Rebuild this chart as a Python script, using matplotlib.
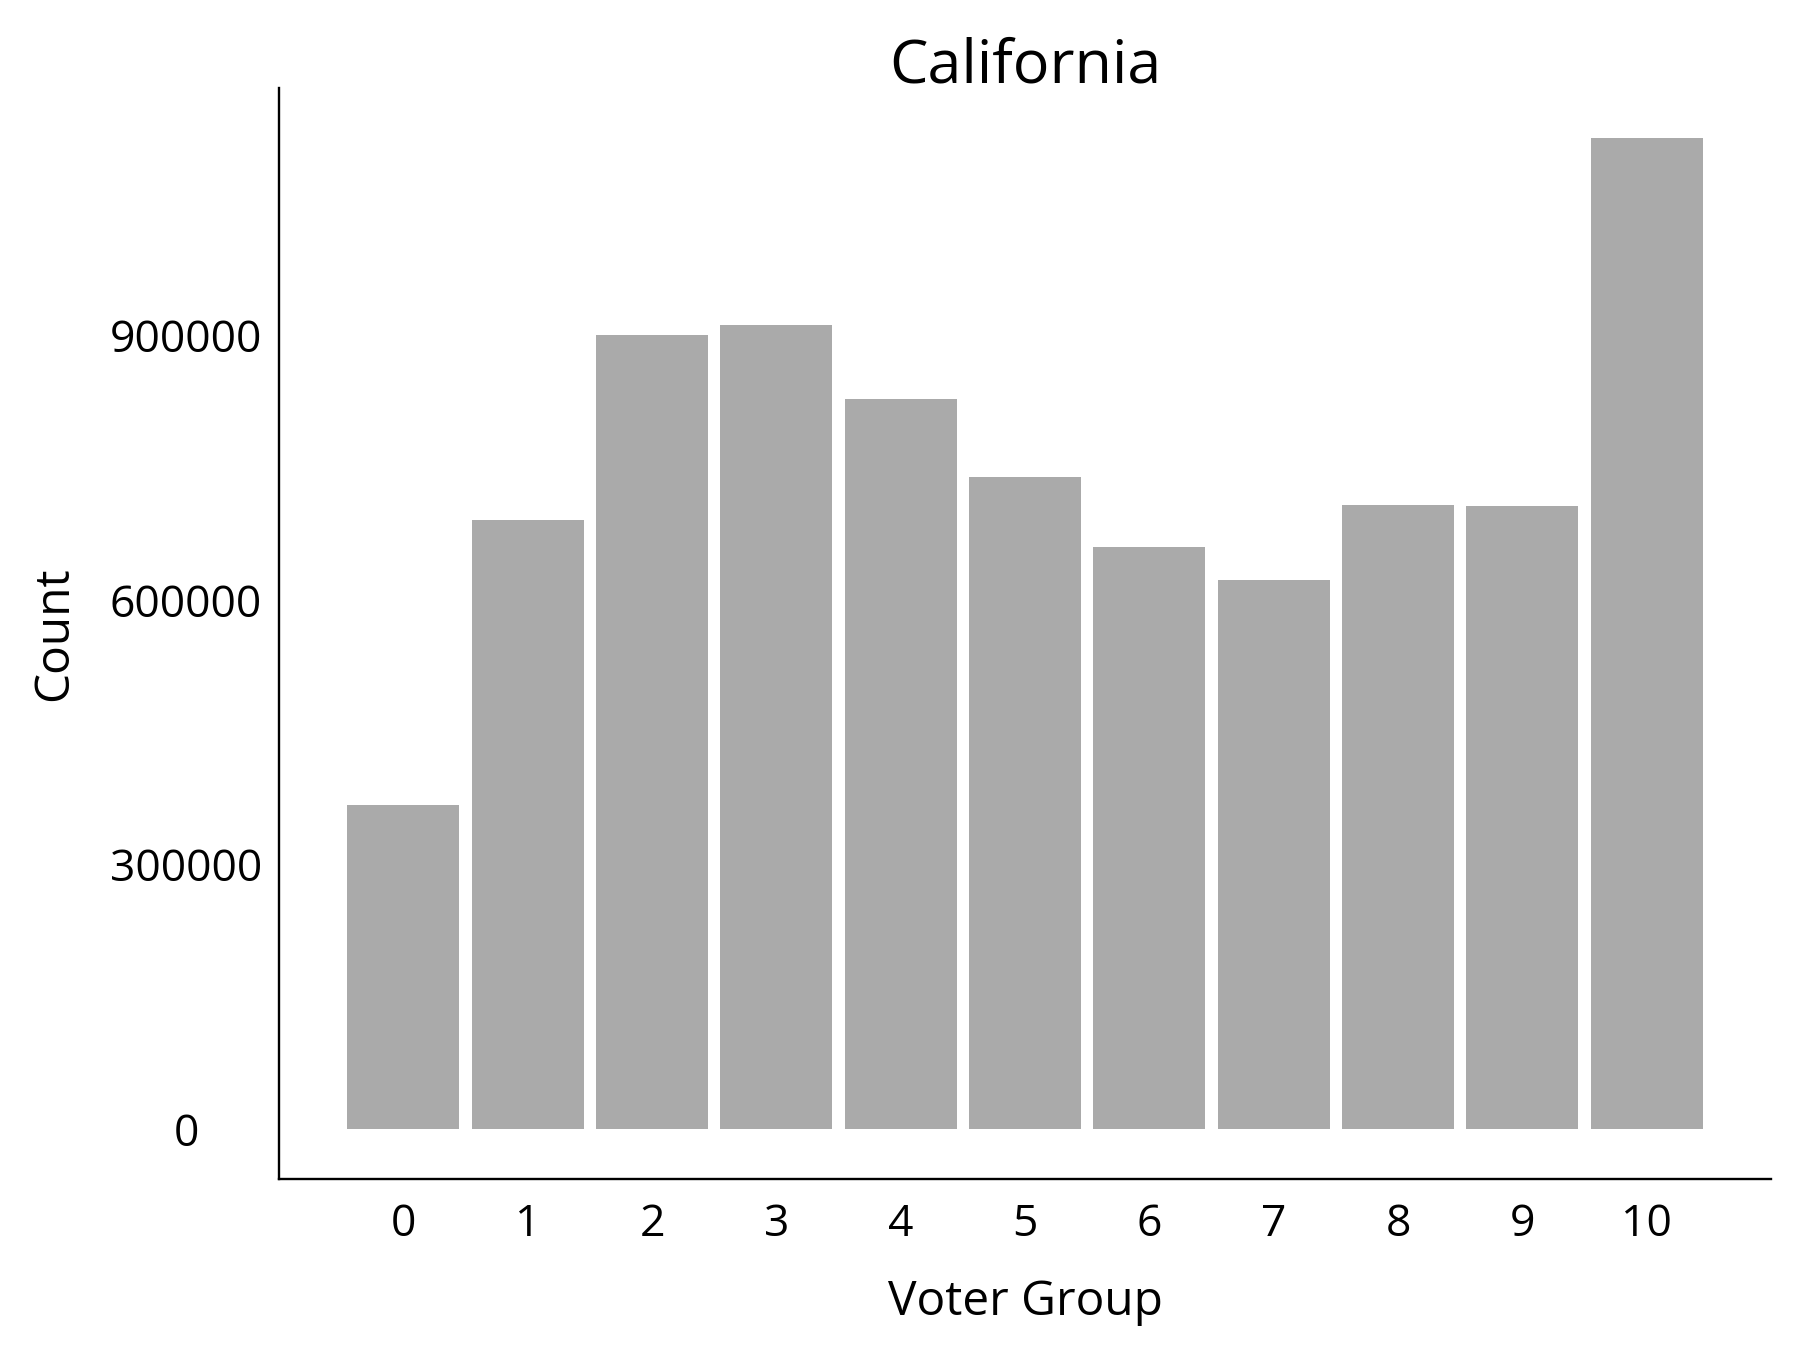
import matplotlib
matplotlib.use("Agg")
import matplotlib.pyplot as plt
import numpy as np

# counts per voter group
groups = [0, 1, 2, 3, 4, 5, 6, 7, 8, 9, 10]
counts = [368000, 690600, 899500, 911700, 827100, 738700, 659400, 623000, 707500, 706200, 1123700]
y_ticks = [0, 300000, 600000, 900000]

plt.rcParams["font.family"] = ["Open Sans", "DejaVu Sans"]

W, H = 1799, 1349
fig = plt.figure(figsize=(W / 100, H / 100), dpi=100)
# panel box in pixels: left 279, right 1771, top 88, bottom 1179
ax = fig.add_axes([279 / W, 1 - 1179 / H, (1771 - 279) / W, (1179 - 88) / H])

x = np.array(groups)
ax.bar(x, counts, width=0.9, color="#aaaaaa", edgecolor="none")

# ggplot-like 5% expansion
top = max(counts)
ax.set_ylim(-0.05 * top, 1.05 * top)
ax.set_xlim(-1.0, 11.0)

ax.set_xticks(x)
ax.set_xticklabels([str(g) for g in groups])
ax.set_yticks(y_ticks)
ax.set_yticklabels([str(v) for v in y_ticks])

ax.tick_params(axis="both", length=0, labelsize=32, colors="black")
ax.tick_params(axis="x", pad=17)
ax.tick_params(axis="y", pad=67)
for lab in ax.get_yticklabels():
    lab.set_horizontalalignment("center")

for side in ["top", "right"]:
    ax.spines[side].set_visible(False)
for side in ["left", "bottom"]:
    ax.spines[side].set_linewidth(1.7)
    ax.spines[side].set_color("black")

# fixed y so matplotlib doesn't auto-shift the title
ax.set_title("California", fontsize=44, y=1.0, pad=4)

ax.set_xlabel("Voter Group", fontsize=34.5)
ax.xaxis.label.set_va("baseline")
ax.xaxis.set_label_coords(0.5, -(1315 - 1179) / (1179 - 88))

ax.set_ylabel("Count", fontsize=34.5)
ax.yaxis.label.set_va("center")
ax.yaxis.set_label_coords(-(279 - 54) / (1771 - 279), 0.5)

fig.savefig("out.png", dpi=100)
